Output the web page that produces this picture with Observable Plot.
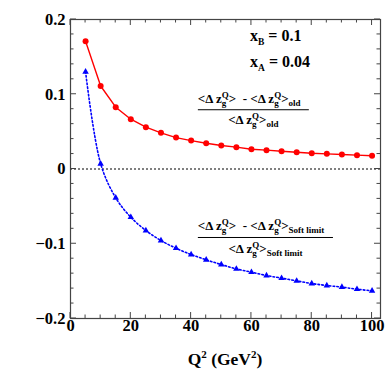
<!DOCTYPE html>
<html><head><meta charset="utf-8">
<script src="https://cdn.jsdelivr.net/npm/d3@7"></script>
<script src="https://cdn.jsdelivr.net/npm/@observablehq/plot@0.6"></script>
<style>
html,body{margin:0;padding:0;background:#fff;}
svg{display:block;}
.rt{white-space:pre;}
</style>
</head><body>
<div id="chart"></div>
<script>
const Q2 = [5,10,15,20,25,30,35,40,45,50,55,60,65,70,75,80,85,90,95,100];
const ratioOld = [0.171,0.111,0.0827,0.0666,0.056,0.0484,0.042,0.038,0.0345,0.0314,0.0292,0.0265,0.0252,0.0238,0.0225,0.0211,0.0203,0.0194,0.0185,0.0177];
const ratioSoft = [0.130,0.007,-0.0385,-0.0645,-0.0823,-0.0957,-0.106,-0.1144,-0.1215,-0.1278,-0.1336,-0.138,-0.1425,-0.146,-0.1497,-0.1532,-0.1559,-0.158,-0.1608,-0.163];
const xMajor = [0,20,40,60,80,100];
const xMinor = [5,10,15,25,30,35,45,50,55,65,70,75,85,90,95];
const yMajor = [-0.2,-0.1,0,0.1,0.2];
const yMinor = [-0.18,-0.16,-0.14,-0.12,-0.08,-0.06,-0.04,-0.02,0.02,0.04,0.06,0.08,0.12,0.14,0.16,0.18];
const yLabels = {"-0.2":"−0.2","-0.1":"−0.1","0":"0","0.1":"0.1","0.2":"0.2"};

const old = Q2.map((q,i)=>({q, v: ratioOld[i]}));
const soft = Q2.map((q,i)=>({q, v: ratioSoft[i]}));

const font = "'Liberation Serif','Times New Roman',serif";
const fs = 16.5;

const plot = Plot.plot({
  width: 388, height: 375,
  marginLeft: 70, marginRight: 8, marginTop: 19, marginBottom: 57,
  style: {fontFamily: font, fontWeight: "bold", fontSize: fs + "px", color: "#000", background: "#fff"},
  x: {domain: [0, 102.8]},
  y: {domain: [-0.2, 0.2]},
  marks: [
    Plot.ruleY([0], {stroke: "#000", strokeWidth: 1, strokeDasharray: "2,2"}),
    Plot.line(old, {x: "q", y: "v", stroke: "#ff0000", strokeWidth: 1.4}),
    Plot.dot(old, {x: "q", y: "v", r: 3, fill: "#ff0000", stroke: "none"}),
    Plot.line(soft, {x: "q", y: "v", stroke: "#0000ff", strokeWidth: 1.6, strokeDasharray: "1.6,2.2", curve: "catmull-rom"}),
    Plot.dot(soft, {x: "q", y: "v", r: 2.4, symbol: "triangle", fill: "#0000ff", stroke: "none"}),
    Plot.axisX({anchor: "bottom", ticks: xMajor, tickSize: 0, tickPadding: 1, tickFormat: d => String(d), label: null}),
    Plot.axisY({anchor: "left", ticks: yMajor, tickSize: 0, tickPadding: 5, tickFormat: d => yLabels[String(d)], label: null}),
    Plot.frame({stroke: "#444", strokeWidth: 1.2})
  ]
});
document.getElementById("chart").appendChild(plot);

const sx = plot.scale("x"), sy = plot.scale("y");
const svg = d3.select(plot);
const [x0, x1] = [sx.apply(0), sx.apply(102.8)];
const [yb, yt] = [sy.apply(-0.2), sy.apply(0.2)];

// inward ticks on all four sides
const tg = svg.append("g").attr("stroke", "#444").attr("stroke-width", 1);
function tickX(v, len) {
  const x = sx.apply(v);
  tg.append("line").attr("x1", x).attr("x2", x).attr("y1", yb).attr("y2", yb - len);
  tg.append("line").attr("x1", x).attr("x2", x).attr("y1", yt).attr("y2", yt + len);
}
function tickY(v, len) {
  const y = sy.apply(v);
  tg.append("line").attr("y1", y).attr("y2", y).attr("x1", x0).attr("x2", x0 + len);
  tg.append("line").attr("y1", y).attr("y2", y).attr("x1", x1).attr("x2", x1 - len);
}
xMajor.forEach(v => tickX(v, 6)); xMinor.forEach(v => tickX(v, 3.5));
yMajor.forEach(v => tickY(v, 6)); yMinor.forEach(v => tickY(v, 3.5));

// rich text: one <text> with flowing tspans; parts = {t, s, off (baseline offset), dx}
function rich(x, y, parts, anchor) {
  const t = svg.append("text").attr("class", "rt").attr("x", x).attr("y", y)
    .attr("font-family", font).attr("font-weight", "bold").attr("fill", "#000")
    .attr("text-anchor", anchor || "start");
  let cur = 0;
  for (const p of parts) {
    const off = p.off || 0;
    const ts = t.append("tspan").attr("font-size", p.s).text(p.t);
    if (off !== cur) { ts.attr("dy", off - cur); cur = off; }
    if (p.dx) ts.attr("dx", p.dx);
  }
  return t;
}
const big = 16, med = 13, sm = 9;
rich(sx.apply(59.7), sy.apply(0.1706), [{t: "x", s: big}, {t: "B", s: 9.5, off: 4}, {t: " = 0.1", s: big}]);
rich(sx.apply(59.7), sy.apply(0.1358), [{t: "x", s: big}, {t: "A", s: 9.5, off: 4}, {t: " = 0.04", s: big}]);

function zgQ() {
  // subscript g and superscript Q stacked at the same position
  return [{t: "<Δ z", s: med}, {t: "g", s: sm, off: 3}, {t: "Q", s: sm, off: -5.5, dx: -sm * 0.5}, {t: ">", s: med, off: 0}];
}
function frac(qLeft, yNum, yLine, yDen, qRight, subText) {
  const xl = sx.apply(qLeft), xr = sx.apply(qRight);
  rich(xl, sy.apply(yNum), [...zgQ(), {t: "  - ", s: med}, ...zgQ(), {t: subText, s: sm, off: 3}]);
  svg.append("line").attr("x1", xl).attr("x2", xr).attr("y1", sy.apply(yLine)).attr("y2", sy.apply(yLine))
    .attr("stroke", "#000").attr("stroke-width", 1);
  rich((xl + xr) / 2, sy.apply(yDen), [...zgQ(), {t: subText, s: sm, off: 3}], "middle");
}
frac(42.4, 0.0876, 0.0786, 0.0595, 79.2, "old");
frac(42.4, -0.0823, -0.0923, -0.1131, 87.2, "Soft limit");

// axis title
rich((x0 + x1) / 2, yb + 47, [{t: "Q", s: 17.5}, {t: "2", s: 11, off: -7}, {t: " (GeV", s: 17.5, off: 0}, {t: "2", s: 11, off: -7}, {t: ")", s: 17.5, off: 0}], "middle");
</script>
</body></html>
